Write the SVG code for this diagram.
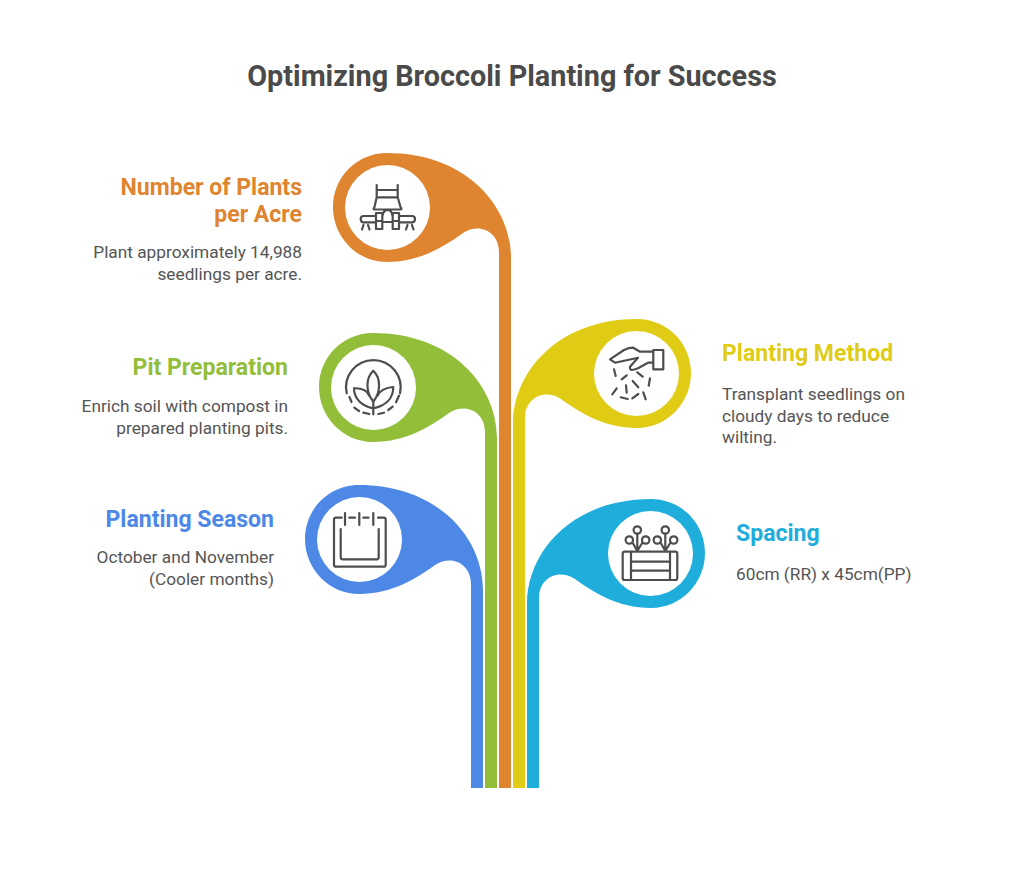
<svg xmlns="http://www.w3.org/2000/svg" width="1024" height="872" viewBox="0 0 1024 872">
<style>
text{font-family:Roboto,"Liberation Sans",sans-serif}
.t{font-size:28.8px;font-weight:700;fill:#4a4a4a;text-anchor:middle}
.h{font-size:23.04px;font-weight:700}
.d{font-size:17.28px;fill:#555}
.e{text-anchor:end}
.c{fill:#fff}
.i{fill:none;stroke:#4d4d4d;stroke-width:2.2;stroke-linecap:round;stroke-linejoin:round}
</style>
<rect width="1024" height="872" fill="#fff"/>
<text class="t" x="512" y="86.400">Optimizing Broccoli Planting for Success</text>
<g id="connectors">
<path id="stem-season" fill="#4d88e6" transform="translate(-28 332)" d="M511 456V258C511 205 465 153 387 153C357 153 333 177 333 207C333 237 357 262 387 262C420 262 445 246 463 233C480 222 499 232 499 252V456Z"/>
<path id="stem-pit" fill="#93be39" transform="translate(-14 180)" d="M511 608V258C511 205 465 153 387 153C357 153 333 177 333 207C333 237 357 262 387 262C420 262 445 246 463 233C480 222 499 232 499 252V608Z"/>
<path id="stem-number" fill="#df842f" d="M511 788V258C511 205 465 153 387 153C357 153 333 177 333 207C333 237 357 262 387 262C420 262 445 246 463 233C480 222 499 232 499 252V788Z"/>
<path id="stem-method" fill="#e0cc15" transform="translate(1024 166) scale(-1 1)" d="M511 622V258C511 205 465 153 387 153C357 153 333 177 333 207C333 237 357 262 387 262C420 262 445 246 463 233C480 222 499 232 499 252V622Z"/>
<path id="stem-spacing" fill="#1fadDC" transform="translate(1038 346) scale(-1 1)" d="M511 442V258C511 205 465 153 387 153C357 153 333 177 333 207C333 237 357 262 387 262C420 262 445 246 463 233C480 222 499 232 499 252V442Z"/>
</g>
<g id="node-number">
<circle class="c" cx="387.5" cy="207.5" r="42.5"/>
<path class="i" d="M376.700 185V197.300M397.700 185V197.300M376.700 190H397.700M376.700 197.300H397.700M376.700 197.300L374.500 207M397.700 197.300L400.500 207M374.500 207Q372.700 209.500 374.500 209.500H400.500Q402.300 209.500 400.500 207"/>
<path class="i" d="M376 216H363Q360.700 216.500 360.700 219Q360.700 222 363 222.300H376M399 216H412.500Q415 216.500 415 219Q415 222 412.500 222.300H399M376 213H382.300V229H376ZM392.700 213H399V229H392.700ZM376 221H382.300M392.700 221H399M382.300 217Q383 209.800 387.700 209.800Q392 209.800 392.700 217M382.300 222H392.700M363.500 225L362 229.500M368 225L369.500 229.500M407.500 225L406 229.500M412 225L413.500 229.500"/>
<text class="h e" fill="#df842f" x="302" y="194.700">Number of Plants</text>
<text class="h e" fill="#df842f" x="302" y="222.300">per Acre</text>
<text class="d e" x="302" y="258.400">Plant approximately 14,988</text>
<text class="d e" x="302" y="279.500">seedlings per acre.</text>
</g>
<g id="node-pit">
<circle class="c" cx="373.500" cy="387.500" r="42.500"/>
<path class="i" d="M346.700 393.300A27.300 27.300 0 1 1 400 393.300M349.500 397L351.500 402M354.300 407.700L359 411M363.300 412.700L369.300 414M378.300 414L384 412.700M388.300 410L392.700 406.700M396 402.300L399 395.700"/>
<path class="i" d="M373.300 370.700C365.500 378 365.500 392 373.300 401.700C381 392 381 378 373.300 370.700ZM373.300 401.700V414.300M373.300 408.300C362 406 354 399 354 388.300C361 388 367 390.500 369.300 395.700M373.300 408.300C385 406 393.300 399 393.300 387C386 387.500 380 390.500 377.500 395.700"/>
<text class="h e" fill="#93be39" x="288" y="375">Pit Preparation</text>
<text class="d e" x="288" y="412.400">Enrich soil with compost in</text>
<text class="d e" x="288" y="433.500">prepared planting pits.</text>
</g>
<g id="node-season">
<circle class="c" cx="359.500" cy="539.500" r="42.500"/>
<path class="i" d="M341.700 517.700H336Q334 517.700 334 519.700V564.700Q334 566.700 336 566.700H383.700Q385.700 566.700 385.700 564.700V519.700Q385.700 517.700 383.700 517.700H378M345 513V525M359.300 513V525M373.300 513V525M349.300 517.700H355M363.300 517.700H368.500"/>
<path class="i" d="M340.700 529V557.300Q340.700 559.300 342.700 559.300H376.700Q378.700 559.300 378.700 557.300V529"/>
<text class="h e" fill="#4d88e6" x="274" y="527.300">Planting Season</text>
<text class="d e" x="274" y="563.400">October and November</text>
<text class="d e" x="274" y="584.500">(Cooler months)</text>
</g>
<g id="node-method">
<circle class="c" cx="636.500" cy="373.500" r="42.500"/>
<path class="i" d="M653.300 350H663.300V369.300H653.300ZM653.300 351.700H640L633.300 347.700Q629 347.700 624 350L610 359.300L615 362.700L638 357.700L630 366.700Q630 370 631.700 370Q634 370 638 368.300L648 362.700H653.300"/>
<path class="i" d="M614 369.300L615.700 376M621.700 379.300L626.700 375.300M637.300 372.300L642.700 376.700M632.700 381L638.300 387.300M650 378.300L648.700 385.700M626 385.300L626.700 392.700M616.700 388.300L612.300 394.300M620.700 397.300L627.700 399M632.300 398.300L638.300 394M643.300 392.300L645.700 399.300"/>
<text class="h" fill="#e0cc15" x="722" y="361.300">Planting Method</text>
<text class="d" x="722" y="400.400">Transplant seedlings on</text>
<text class="d" x="722" y="421.500">cloudy days to reduce</text>
<text class="d" x="722" y="442.500">wilting.</text>
</g>
<g id="node-spacing">
<circle class="c" cx="650.500" cy="553.500" r="42.500"/>
<path class="i" d="M624.700 551.700Q622.700 551.700 622.700 553.700V578Q622.700 580 624.700 580H675.300Q677.300 580 677.300 578V553.700Q677.300 551.700 675.300 551.700ZM631 551.700V580M670 551.700V580M631 561.700H670M631 570.700H670"/>
<circle class="i" cx="629.300" cy="540" r="3.700"/><circle class="i" cx="637.300" cy="530" r="3.700"/><circle class="i" cx="645.700" cy="540" r="3.700"/>
<circle class="i" cx="657.300" cy="540" r="3.700"/><circle class="i" cx="665.300" cy="530" r="3.700"/><circle class="i" cx="673.700" cy="540" r="3.700"/>
<path class="i" d="M637.300 533.700V551M632.500 542.500L637.300 551M642.500 542.500L637.300 551M665.300 533.700V551M660.500 542.500L665.300 551M670.500 542.500L665.300 551"/>
<text class="h" fill="#1fadDC" x="736" y="541">Spacing</text>
<text class="d" x="736" y="580.400">60cm (RR) x 45cm(PP)</text>
</g>
</svg>
